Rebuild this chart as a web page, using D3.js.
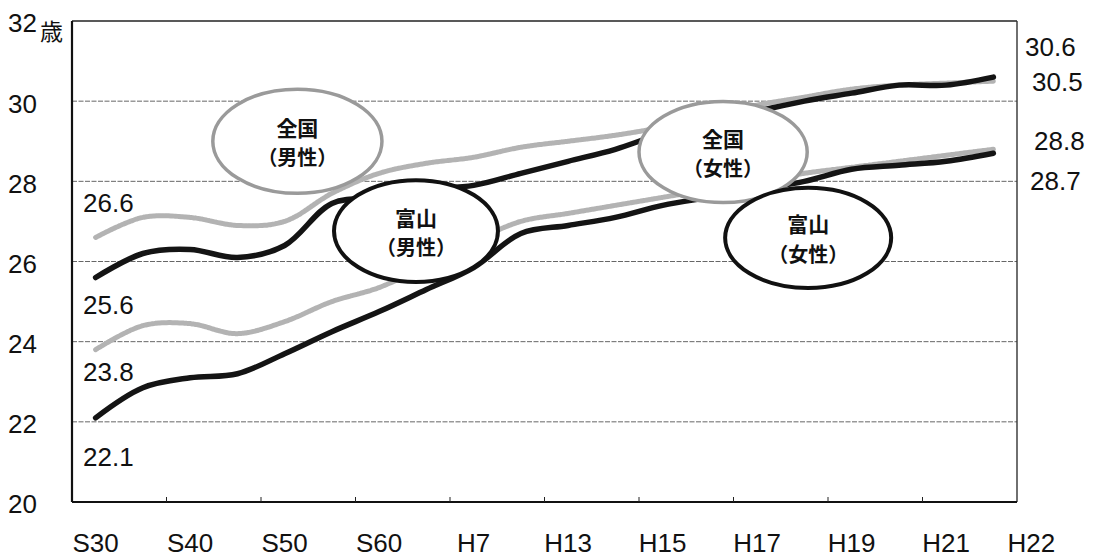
<!DOCTYPE html>
<html><head><meta charset="utf-8">
<script src="https://cdn.jsdelivr.net/npm/d3@7"></script>
<style>
html,body{margin:0;padding:0;background:#fff;}
svg{display:block;}
text{fill:#111;}
</style></head>
<body>
<svg id="chart" width="1094" height="557"></svg>
<script>
// ---- data ----
const categories = ["S30","S35","S40","S45","S50","S55","S60","H2","H7","H12","H13","H14","H15","H16","H17","H18","H19","H20","H21","H22"];
const xTickLabels = ["S30","S40","S50","S60","H7","H13","H15","H17","H19","H21","H22"];
const yTicks = [20,22,24,26,28,30,32];
const toyamaMale    = [25.6,26.2,26.3,26.1,26.4,27.45,27.6,27.8,27.9,28.2,28.5,28.8,29.2,29.5,29.75,30.0,30.2,30.4,30.4,30.6];
const nationalMale  = [26.6,27.1,27.1,26.9,27.0,27.7,28.2,28.45,28.6,28.85,29.0,29.15,29.35,29.6,29.9,30.1,30.3,30.4,30.45,30.5];
const toyamaFemale  = [22.1,22.85,23.1,23.2,23.7,24.25,24.75,25.3,25.85,26.7,26.9,27.1,27.4,27.6,27.8,28.0,28.3,28.4,28.5,28.7];
const nationalFemale= [23.8,24.4,24.45,24.2,24.5,25.0,25.35,25.9,26.5,27.0,27.2,27.4,27.6,27.8,28.0,28.2,28.35,28.5,28.65,28.8];
const startLabels = ["26.6","25.6","23.8","22.1"];
const endLabels   = ["30.5","30.6","28.8","28.7"];
const bubbleTop    = ["全国","富山","全国","富山"];
const bubbleBottom = ["（男性）","（男性）","（女性）","（女性）"];

// ---- layout / style ----
const svg = d3.select("#chart");
const plot = {left:72, right:1017, top:21, bottom:502};
const x = d3.scaleBand().domain(categories).range([plot.left, plot.right]);
const y = d3.scaleLinear().domain([20,32]).range([plot.bottom, plot.top]);
const cx = c => x(c) + x.bandwidth()/2;
const xi = i => plot.left + i * x.step();           // fractional category index -> px
const numFont = "'Liberation Sans', Arial, sans-serif";
const cjkFont = "'Noto Sans CJK JP', sans-serif";

const series = [
  {values: nationalMale,   gray:true,  sDy:-35, eDy:1,   eDx:15},
  {values: toyamaMale,     gray:false, sDy:27,  eDy:-30, eDx:8},
  {values: nationalFemale, gray:true,  sDy:22,  eDy:-9,  eDx:17},
  {values: toyamaFemale,   gray:false, sDy:39,  eDy:27,  eDx:13}
];

// grid lines
svg.append("g").selectAll("line").data(yTicks.filter(v => v > 20 && v < 32)).join("line")
  .attr("x1", plot.left).attr("x2", plot.right)
  .attr("y1", d => y(d)).attr("y2", d => y(d))
  .attr("stroke", "#555").attr("stroke-width", 0.9).attr("stroke-dasharray", "5,1.5");

// frame
svg.append("line").attr("x1", plot.left).attr("x2", plot.right).attr("y1", y(32)).attr("y2", y(32))
  .attr("stroke", "#222").attr("stroke-width", 1.6);
svg.append("line").attr("x1", plot.right).attr("x2", plot.right).attr("y1", y(32)).attr("y2", y(20))
  .attr("stroke", "#333").attr("stroke-width", 1.4);
svg.append("line").attr("x1", plot.left).attr("x2", plot.right).attr("y1", y(20)).attr("y2", y(20))
  .attr("stroke", "#111").attr("stroke-width", 2);
svg.append("line").attr("x1", plot.left).attr("x2", plot.left).attr("y1", y(32)).attr("y2", y(20))
  .attr("stroke", "#111").attr("stroke-width", 2.2);

// bottom ticks (every second category boundary)
svg.append("g").selectAll("line").data(categories.filter((c,i) => i > 0 && i % 2 === 0)).join("line")
  .attr("x1", d => x(d)).attr("x2", d => x(d))
  .attr("y1", y(20)).attr("y2", y(20) - 5)
  .attr("stroke", "#222").attr("stroke-width", 1);

// y tick labels
svg.append("g").selectAll("text").data(yTicks).join("text")
  .attr("x", 37).attr("y", d => y(d) + 2).attr("dy", "0.36em")
  .attr("text-anchor", "end")
  .style("font-family", numFont).style("font-size", "26px")
  .text(d => d);
svg.append("text").attr("x", 40).attr("y", y(32) + 10).attr("dy", "0.38em")
  .style("font-family", cjkFont).style("font-size", "23px").text("歳");

// x tick labels
svg.append("g").selectAll("text").data(xTickLabels).join("text")
  .attr("x", d => cx(d) + (d === "H22" ? 38 : 0))
  .attr("y", 552)
  .attr("text-anchor", "middle")
  .style("font-family", numFont).style("font-size", "26px")
  .text(d => d);

// lines
const line = d3.line().x((d,i) => cx(categories[i])).y(d => y(d)).curve(d3.curveCatmullRom.alpha(0.5));
svg.append("g").selectAll("path").data(series).join("path")
  .attr("d", d => line(d.values))
  .attr("fill", "none")
  .attr("stroke", d => d.gray ? "#b3b3b3" : "#141414")
  .attr("stroke-width", d => d.gray ? 5 : 5.5)
  .attr("stroke-dasharray", d => d.gray ? "2.5,1" : null)
  .attr("stroke-linecap", "round").attr("stroke-linejoin", "round");

// start / end value labels
svg.append("g").selectAll("text").data(series).join("text")
  .attr("x", 83).attr("y", d => y(d.values[0]) + d.sDy).attr("dy", "0.36em")
  .style("font-family", numFont).style("font-size", "26px")
  .text((d,i) => startLabels[i]);
svg.append("g").selectAll("text").data(series).join("text")
  .attr("x", d => plot.right + d.eDx).attr("y", d => y(d.values[d.values.length-1]) + d.eDy).attr("dy", "0.36em")
  .style("font-family", numFont).style("font-size", "26px")
  .text((d,i) => endLabels[i]);

// callout bubbles (positions in category-index / age units)
const bubbles = [
  {i:4.77,  v:29.0,  rx:1.79,  rv:1.30, gray:true},
  {i:7.28,  v:26.76, rx:1.735, rv:1.27, gray:false},
  {i:13.78, v:28.73, rx:1.78,  rv:1.26, gray:true},
  {i:15.58, v:26.59, rx:1.757, rv:1.25, gray:false}
];
const bg = svg.append("g").selectAll("g").data(bubbles).join("g");
bg.append("ellipse")
  .attr("cx", d => xi(d.i)).attr("cy", d => y(d.v))
  .attr("rx", d => d.rx * x.step()).attr("ry", d => y(20) - y(20 + d.rv))
  .attr("fill", "#fff")
  .attr("stroke", d => d.gray ? "#9a9a9a" : "#111")
  .attr("stroke-width", d => d.gray ? 3.5 : 4);
bg.append("text")
  .attr("x", d => xi(d.i)).attr("y", d => y(d.v) - 13).attr("dy", "0.36em")
  .attr("text-anchor", "middle")
  .style("font-family", cjkFont).style("font-weight", "bold").style("font-size", "21px")
  .text((d,i) => bubbleTop[i]);
bg.append("text")
  .attr("x", d => xi(d.i)).attr("y", d => y(d.v) + 17).attr("dy", "0.36em")
  .attr("text-anchor", "middle")
  .style("font-family", cjkFont).style("font-weight", "bold").style("font-size", "20px")
  .attr("textLength", 80).attr("lengthAdjust", "spacingAndGlyphs")
  .text((d,i) => bubbleBottom[i]);
</script>
</body></html>
